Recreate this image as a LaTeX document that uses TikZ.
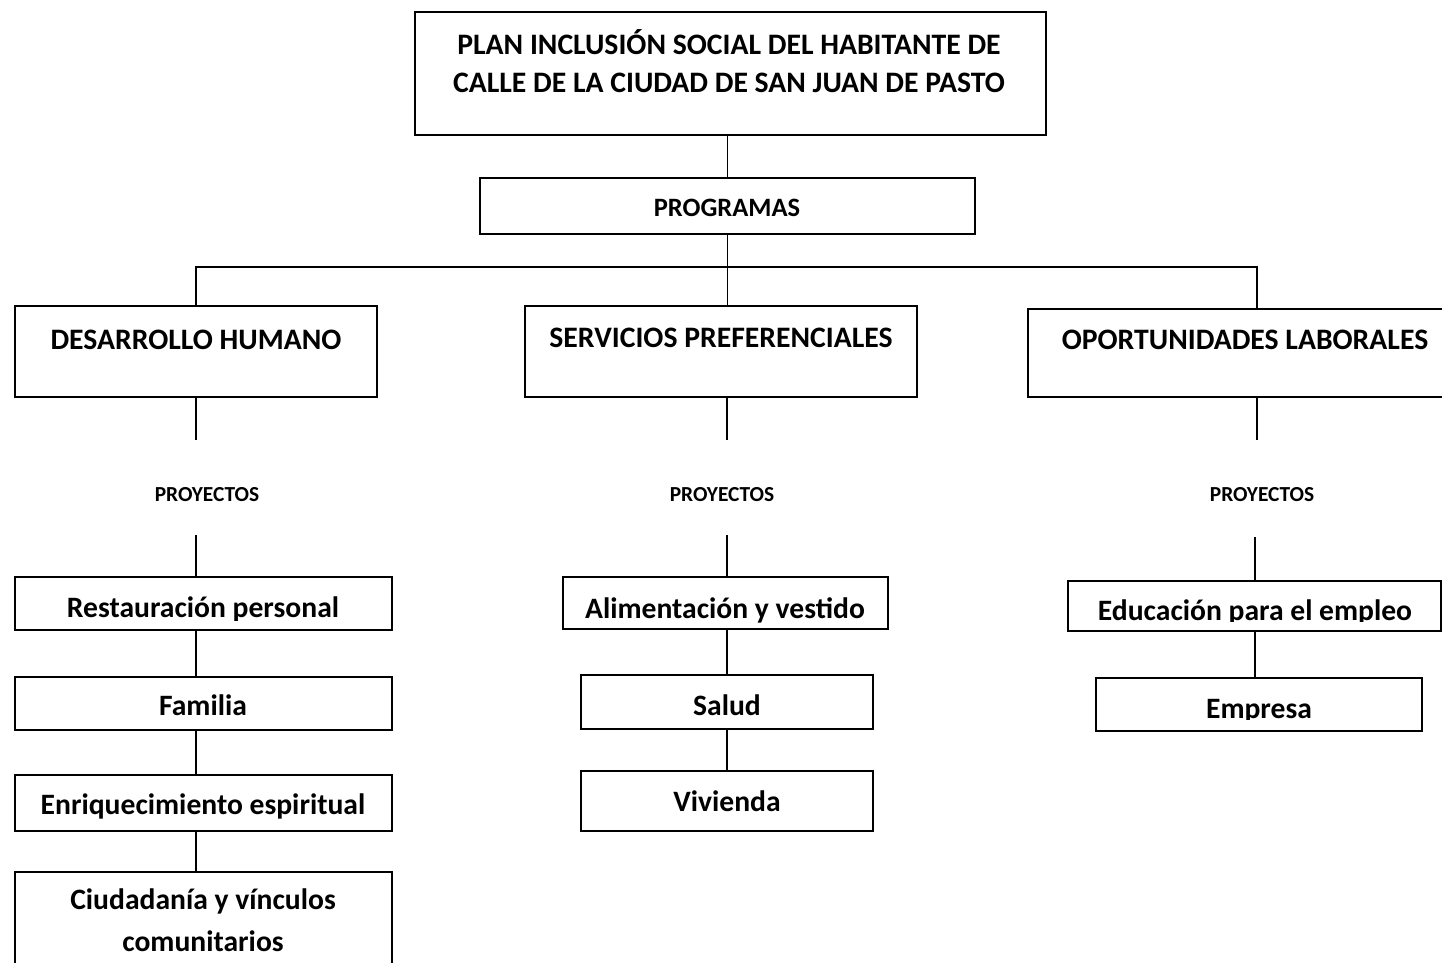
\documentclass[tikz,border=0pt]{standalone}
\usepackage{fontspec}
\setmainfont{Carlito}
\begin{document}
\begin{tikzpicture}[x=1pt,y=-1pt,
  box/.style={draw, line width=1.8pt, inner sep=0pt, minimum width=#1},
  conn/.style={line width=1.8pt},
  big/.style={font=\bfseries\fontsize{29.7}{36}\selectfont, inner sep=0pt, anchor=mid, yshift=-8pt, align=center},
  prg/.style={font=\bfseries\fontsize{26.5}{30}\selectfont, inner sep=0pt, anchor=mid, yshift=-7pt},
  small/.style={font=\bfseries\fontsize{21.4}{26}\selectfont, inner sep=0pt, anchor=mid, yshift=-5pt},
  item/.style={font=\bfseries\fontsize{29.6}{42}\selectfont, inner sep=0pt, anchor=mid, yshift=-8.5pt, align=center}]
\useasboundingbox (0,0) rectangle (1442,963);
\clip (0,0) rectangle (1442,963);
% boxes
\node[box=631pt, minimum height=123pt] (top) at (730.5,73.5) {};
\node[box=495pt, minimum height=56pt] (prog) at (727.5,206) {};
\node[box=362pt, minimum height=91pt] (dh) at (196,351.5) {};
\node[box=392pt, minimum height=91pt] (sp) at (721,351.5) {};
\node[box=432pt, minimum height=88pt] (ol) at (1244,353) {};
\node[box=377pt, minimum height=53pt] (rp) at (203.5,603.5) {};
\node[box=377pt, minimum height=53pt] (fam) at (203.5,703.5) {};
\node[box=377pt, minimum height=56pt] (enr) at (203.5,803) {};
\node[box=377pt, minimum height=118pt] (ciu) at (203.5,931) {};
\node[box=325pt, minimum height=52pt] (ali) at (725.5,603) {};
\node[box=292pt, minimum height=54pt] (sal) at (727,702) {};
\node[box=292pt, minimum height=60pt] (viv) at (727,801) {};
\node[box=373pt, minimum height=50pt] (edu) at (1254.5,606) {};
\node[box=326pt, minimum height=53pt] (emp) at (1259,704.5) {};
% texts
\node[big] (topt1) at (729,44) {PLAN INCLUSIÓN SOCIAL DEL HABITANTE DE};
\node[big] (topt2) at (729,82) {CALLE DE LA CIUDAD DE SAN JUAN DE PASTO};
\node[prg] (progt) at (727,207) {PROGRAMAS};
\node[big] (dht) at (196,339) {DESARROLLO HUMANO};
\node[big] (spt) at (721,337) {SERVICIOS PREFERENCIALES};
\node[big] (olt) at (1245,339) {OPORTUNIDADES LABORALES};
\node[small] (p1) at (207,494) {PROYECTOS};
\node[small] (p2) at (722,494) {PROYECTOS};
\node[small] (p3) at (1262,494) {PROYECTOS};
\begin{scope}
\clip (rp.north west) rectangle ([yshift=10pt]rp.south east);
\node[item] (rpt) at (203,607) {Restauración personal};
\end{scope}
\node[item] (famt) at (203,705) {Familia};
\node[item] (enrt) at (203,804) {Enriquecimiento espiritual};
\node[item] (ciut1) at (203,899) {Ciudadanía y vínculos};
\node[item] (ciut2) at (203,941) {comunitarios};
\begin{scope}
\clip (ali.north west) rectangle ([yshift=5pt]ali.south east);
\node[item] (alit) at (725,608) {Alimentación y vestido};
\end{scope}
\node[item] (salt) at (727,705) {Salud};
\node[item] (vivt) at (727,801) {Vivienda};
\begin{scope}
\clip (edu.north west) rectangle ([yshift=10pt]edu.south east);
\node[item] (edut) at (1255,610) {Educación para el empleo};
\end{scope}
\begin{scope}
\clip (emp.north west) rectangle ([yshift=12pt]emp.south east);
\node[item] (empt) at (1259,708) {Empresa};
\end{scope}
% junction coordinates
\coordinate (j) at (727.5,267);
\coordinate (jl) at (196,267);
\coordinate (jr) at (1257,267);
\coordinate (a1) at (196,440);
\coordinate (b1) at (196,535);
\coordinate (a2) at (727,440);
\coordinate (b2) at (727,535);
\coordinate (a3) at (1257,440);
\coordinate (b3) at (1255,537);
% connectors
\draw[conn] (top.south -| prog.north) -- (prog.north);
\draw[conn] (prog.south) -- (j);
\draw[conn] (jl |- dh.north) -- (jl) -- (jr) -- (jr |- ol.north);
\draw[conn] (j) -- (j |- sp.north);
\draw[conn] (dh.south) -- (a1);
\draw[conn] (b1) -- (b1 |- rp.north);
\draw[conn] (a2 |- sp.south) -- (a2);
\draw[conn] (b2) -- (b2 |- ali.north);
\draw[conn] (a3 |- ol.south) -- (a3);
\draw[conn] (b3) -- (b3 |- edu.north);
\draw[conn] (rp.south -| b1) -- (fam.north -| b1);
\draw[conn] (fam.south -| b1) -- (enr.north -| b1);
\draw[conn] (enr.south -| b1) -- (ciu.north -| b1);
\draw[conn] (ali.south -| b2) -- (sal.north -| b2);
\draw[conn] (sal.south -| b2) -- (viv.north -| b2);
\draw[conn] (edu.south -| b3) -- (emp.north -| b3);
\end{tikzpicture}
\end{document}
